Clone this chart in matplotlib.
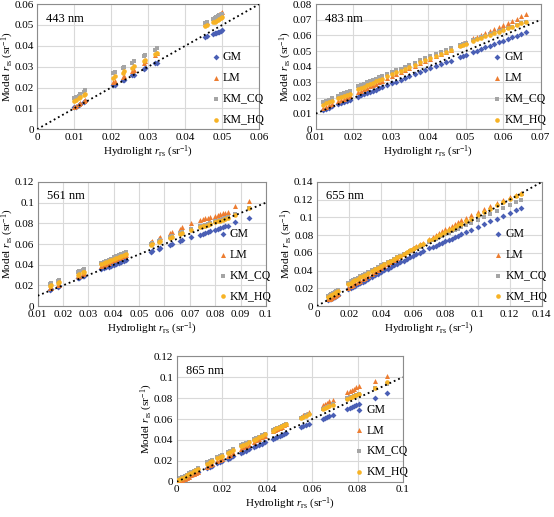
import matplotlib
matplotlib.use('Agg')
import matplotlib.pyplot as plt
from matplotlib.ticker import MultipleLocator, FuncFormatter

plt.rcParams['font.family'] = ['Liberation Serif', 'DejaVu Serif']
plt.rcParams['mathtext.fontset'] = 'custom'
plt.rcParams['mathtext.rm'] = 'Liberation Serif'
plt.rcParams['mathtext.it'] = 'Liberation Serif:italic'

# ---- 443 nm ----
x1 = [0.0100, 0.0104, 0.0113, 0.0116, 0.0127, 0.0130,
      0.0206, 0.0209, 0.0231, 0.0234, 0.0257, 0.0261, 0.0288, 0.0292, 0.0319, 0.0323,
      0.0454, 0.0458, 0.0476, 0.0480, 0.0484, 0.0488, 0.0492, 0.0496, 0.0500]
gm1 = [0.0105, 0.0108, 0.0117, 0.0120, 0.0131, 0.0134,
       0.0210, 0.0213, 0.0234, 0.0237, 0.0259, 0.0262, 0.0290, 0.0293, 0.0317, 0.0320,
       0.0442, 0.0446, 0.0458, 0.0460, 0.0462, 0.0465, 0.0467, 0.0472, 0.0478]
lm1 = [0.0108, 0.0112, 0.0121, 0.0125, 0.0137, 0.0141,
       0.0225, 0.0232, 0.0250, 0.0256, 0.0278, 0.0285, 0.0320, 0.0327, 0.0358, 0.0364,
       0.0505, 0.0512, 0.0532, 0.0538, 0.0543, 0.0548, 0.0553, 0.0558, 0.0563]
cq1 = [0.0148, 0.0155, 0.0160, 0.0168, 0.0178, 0.0186,
       0.0268, 0.0276, 0.0292, 0.0300, 0.0318, 0.0326, 0.0350, 0.0358, 0.0380, 0.0388,
       0.0508, 0.0516, 0.0530, 0.0535, 0.0538, 0.0542, 0.0546, 0.0550, 0.0555]
hq1 = [0.0136, 0.0142, 0.0150, 0.0156, 0.0164, 0.0170,
       0.0246, 0.0254, 0.0270, 0.0278, 0.0296, 0.0304, 0.0325, 0.0332, 0.0360, 0.0366,
       0.0495, 0.0502, 0.0512, 0.0516, 0.0520, 0.0525, 0.0530, 0.0535, 0.0540]

# ---- 483 nm ----
x2 = [0.0120, 0.0128, 0.0136, 0.0144,
      0.0160, 0.0168, 0.0176, 0.0184, 0.0190,
      0.0212, 0.0220, 0.0228, 0.0236, 0.0244, 0.0252, 0.0260, 0.0268, 0.0276,
      0.0290, 0.0302, 0.0314, 0.0326, 0.0338, 0.0350, 0.0364, 0.0378, 0.0392, 0.0406, 0.0420, 0.0434, 0.0448, 0.0460,
      0.0484, 0.0492, 0.0500,
      0.0520, 0.0530, 0.0540, 0.0552, 0.0564, 0.0576, 0.0588, 0.0600, 0.0612, 0.0624, 0.0636, 0.0648, 0.0660]
gm2 = [0.0124, 0.0131, 0.0139, 0.0146,
       0.0161, 0.0168, 0.0176, 0.0183, 0.0189,
       0.0209, 0.0217, 0.0224, 0.0232, 0.0239, 0.0247, 0.0254, 0.0262, 0.0269,
       0.0282, 0.0294, 0.0305, 0.0316, 0.0327, 0.0338, 0.0351, 0.0364, 0.0377, 0.0390, 0.0403, 0.0416, 0.0428, 0.0439,
       0.0461, 0.0468, 0.0475,
       0.0494, 0.0503, 0.0512, 0.0523, 0.0534, 0.0545, 0.0556, 0.0567, 0.0578, 0.0589, 0.0599, 0.0610, 0.0620]
lm2 = [0.0135, 0.0143, 0.0152, 0.0160,
       0.0178, 0.0187, 0.0195, 0.0204, 0.0211,
       0.0238, 0.0247, 0.0256, 0.0265, 0.0274, 0.0283, 0.0292, 0.0301, 0.0310,
       0.0326, 0.0339, 0.0352, 0.0365, 0.0378, 0.0391, 0.0406, 0.0421, 0.0436, 0.0451, 0.0466, 0.0481, 0.0496, 0.0509,
       0.0540, 0.0549, 0.0558,
       0.0581, 0.0592, 0.0603, 0.0616, 0.0629, 0.0643, 0.0656, 0.0669, 0.0682, 0.0695, 0.0708, 0.0721, 0.0735]
cq2 = [0.0175, 0.0183, 0.0190, 0.0198,
       0.0215, 0.0223, 0.0232, 0.0240, 0.0247,
       0.0276, 0.0284, 0.0292, 0.0300, 0.0308, 0.0316, 0.0324, 0.0332, 0.0340,
       0.0352, 0.0364, 0.0376, 0.0388, 0.0400, 0.0412, 0.0426, 0.0440, 0.0453, 0.0466, 0.0480, 0.0493, 0.0506, 0.0518,
       0.0539, 0.0547, 0.0554,
       0.0570, 0.0579, 0.0587, 0.0597, 0.0607, 0.0617, 0.0627, 0.0637, 0.0647, 0.0657, 0.0667, 0.0677, 0.0687]
hq2 = [0.0158, 0.0166, 0.0174, 0.0182,
       0.0198, 0.0206, 0.0214, 0.0222, 0.0228,
       0.0256, 0.0264, 0.0273, 0.0281, 0.0290, 0.0298, 0.0306, 0.0315, 0.0323,
       0.0338, 0.0351, 0.0363, 0.0375, 0.0388, 0.0400, 0.0414, 0.0428, 0.0442, 0.0456, 0.0470, 0.0484, 0.0497, 0.0509,
       0.0531, 0.0539, 0.0547,
       0.0565, 0.0574, 0.0583, 0.0594, 0.0604, 0.0615, 0.0625, 0.0636, 0.0646, 0.0657, 0.0667, 0.0678, 0.0688]

# ---- 561 nm ----
x3 = [0.0150, 0.0153, 0.0180, 0.0183, 0.0260, 0.0263, 0.0280, 0.0283,
      0.0350, 0.0360, 0.0370, 0.0380, 0.0390, 0.0400, 0.0410, 0.0420, 0.0430, 0.0440, 0.0450,
      0.0545, 0.0550, 0.0578, 0.0582, 0.0620, 0.0630, 0.0660, 0.0670, 0.0705,
      0.0740, 0.0750, 0.0760, 0.0770, 0.0780, 0.0800, 0.0810, 0.0820, 0.0830, 0.0840, 0.0850,
      0.0880, 0.0932]
gm3 = [0.0160, 0.0163, 0.0188, 0.0191, 0.0268, 0.0271, 0.0287, 0.0290,
       0.0355, 0.0364, 0.0373, 0.0382, 0.0391, 0.0400, 0.0409, 0.0418, 0.0427, 0.0437, 0.0447,
       0.0526, 0.0531, 0.0555, 0.0560, 0.0590, 0.0600, 0.0625, 0.0635, 0.0665,
       0.0690, 0.0698, 0.0706, 0.0714, 0.0722, 0.0738, 0.0746, 0.0754, 0.0762, 0.0770, 0.0778,
       0.0810, 0.0855]
lm3 = [0.0170, 0.0175, 0.0200, 0.0205, 0.0290, 0.0295, 0.0312, 0.0317,
       0.0388, 0.0399, 0.0410, 0.0421, 0.0432, 0.0443, 0.0454, 0.0465, 0.0476, 0.0487, 0.0498,
       0.0620, 0.0630, 0.0655, 0.0665, 0.0705, 0.0720, 0.0750, 0.0765, 0.0805,
       0.0830, 0.0840, 0.0848, 0.0856, 0.0864, 0.0872, 0.0880, 0.0888, 0.0896, 0.0904, 0.0912,
       0.0968, 0.1018]
cq3 = [0.0215, 0.0222, 0.0245, 0.0252, 0.0330, 0.0337, 0.0352, 0.0360,
       0.0420, 0.0430, 0.0440, 0.0450, 0.0460, 0.0470, 0.0480, 0.0490, 0.0500, 0.0510, 0.0520,
       0.0600, 0.0610, 0.0632, 0.0640, 0.0670, 0.0680, 0.0705, 0.0715, 0.0745,
       0.0770, 0.0778, 0.0786, 0.0794, 0.0802, 0.0818, 0.0826, 0.0834, 0.0842, 0.0850, 0.0858,
       0.0890, 0.0945]
hq3 = [0.0195, 0.0200, 0.0225, 0.0230, 0.0305, 0.0310, 0.0328, 0.0333,
       0.0402, 0.0412, 0.0422, 0.0432, 0.0442, 0.0452, 0.0462, 0.0472, 0.0482, 0.0492, 0.0505,
       0.0590, 0.0600, 0.0622, 0.0630, 0.0660, 0.0670, 0.0695, 0.0705, 0.0735,
       0.0762, 0.0770, 0.0778, 0.0786, 0.0794, 0.0810, 0.0818, 0.0826, 0.0834, 0.0842, 0.0850,
       0.0885, 0.0950]

# ---- 655 nm ----
x4 = [0.0070, 0.0080, 0.0090, 0.0100, 0.0110, 0.0120, 0.0130,
      0.0195, 0.0210, 0.0225, 0.0240, 0.0255, 0.0270, 0.0285, 0.0300, 0.0320, 0.0340, 0.0360, 0.0380,
      0.0400, 0.0420, 0.0440, 0.0460, 0.0480, 0.0500, 0.0520, 0.0540, 0.0560, 0.0580, 0.0600, 0.0620, 0.0640, 0.0660,
      0.0700, 0.0720, 0.0740, 0.0760, 0.0780, 0.0800, 0.0820, 0.0840, 0.0860, 0.0880, 0.0900, 0.0930, 0.0960,
      0.1000, 0.1040, 0.1080, 0.1120, 0.1160, 0.1200, 0.1240, 0.1270]
gm4 = [0.0066, 0.0075, 0.0085, 0.0094, 0.0104, 0.0113, 0.0122,
       0.0188, 0.0202, 0.0216, 0.0231, 0.0245, 0.0259, 0.0274, 0.0288, 0.0307, 0.0326, 0.0345, 0.0365,
       0.0385, 0.0404, 0.0422, 0.0441, 0.0459, 0.0477, 0.0495, 0.0513, 0.0531, 0.0548, 0.0566, 0.0583, 0.0600, 0.0617,
       0.0650, 0.0666, 0.0682, 0.0698, 0.0714, 0.0730, 0.0746, 0.0762, 0.0778, 0.0794, 0.0810, 0.0834, 0.0858,
       0.0895, 0.0925, 0.0955, 0.0985, 0.1015, 0.1050, 0.1085, 0.1110]
lm4 = [0.0075, 0.0085, 0.0096, 0.0106, 0.0117, 0.0127, 0.0138,
       0.0205, 0.0222, 0.0238, 0.0255, 0.0271, 0.0288, 0.0304, 0.0321, 0.0343, 0.0365, 0.0387, 0.0409,
       0.0431, 0.0453, 0.0475, 0.0497, 0.0519, 0.0541, 0.0563, 0.0585, 0.0607, 0.0629, 0.0651, 0.0673, 0.0695, 0.0716,
       0.0760, 0.0781, 0.0802, 0.0823, 0.0845, 0.0866, 0.0886, 0.0906, 0.0926, 0.0946, 0.0966, 0.0995, 0.1023,
       0.1060, 0.1097, 0.1133, 0.1165, 0.1195, 0.1225, 0.1255, 0.1275]
cq4 = [0.0115, 0.0125, 0.0137, 0.0148, 0.0160, 0.0172, 0.0184,
       0.0265, 0.0280, 0.0294, 0.0308, 0.0322, 0.0336, 0.0350, 0.0364, 0.0383, 0.0402, 0.0421, 0.0440,
       0.0458, 0.0477, 0.0495, 0.0513, 0.0531, 0.0549, 0.0566, 0.0584, 0.0601, 0.0618, 0.0635, 0.0652, 0.0669, 0.0686,
       0.0725, 0.0742, 0.0759, 0.0776, 0.0793, 0.0810, 0.0826, 0.0842, 0.0858, 0.0874, 0.0890, 0.0914, 0.0938,
       0.0975, 0.1007, 0.1040, 0.1072, 0.1105, 0.1138, 0.1170, 0.1195]
hq4 = [0.0105, 0.0116, 0.0127, 0.0138, 0.0149, 0.0160, 0.0171,
       0.0248, 0.0263, 0.0278, 0.0293, 0.0308, 0.0323, 0.0338, 0.0353, 0.0373, 0.0393, 0.0413, 0.0433,
       0.0452, 0.0472, 0.0492, 0.0511, 0.0531, 0.0550, 0.0569, 0.0589, 0.0608, 0.0627, 0.0646, 0.0665, 0.0684, 0.0703,
       0.0741, 0.0760, 0.0779, 0.0798, 0.0817, 0.0836, 0.0855, 0.0874, 0.0893, 0.0912, 0.0931, 0.0959, 0.0987,
       0.1025, 0.1062, 0.1099, 0.1136, 0.1173, 0.1210, 0.1245, 0.1270]

# ---- 865 nm ----
x5 = [0.0005, 0.0015, 0.0025, 0.0035, 0.0045, 0.0055, 0.0065, 0.0075, 0.0085, 0.0095,
      0.0135, 0.0145, 0.0155, 0.0180, 0.0190, 0.0200,
      0.0225, 0.0235, 0.0250, 0.0285, 0.0295, 0.0305, 0.0318,
      0.0340, 0.0352, 0.0364, 0.0376, 0.0390,
      0.0425, 0.0435, 0.0445, 0.0455, 0.0465, 0.0475, 0.0485,
      0.0548, 0.0560, 0.0572, 0.0585,
      0.0645, 0.0655, 0.0665, 0.0675, 0.0690,
      0.0755, 0.0765, 0.0775, 0.0785, 0.0795, 0.0805,
      0.0875, 0.0930]
gm5 = [0.0005, 0.0015, 0.0025, 0.0035, 0.0045, 0.0055, 0.0064, 0.0074, 0.0084, 0.0094,
       0.0134, 0.0143, 0.0153, 0.0178, 0.0187, 0.0197,
       0.0221, 0.0231, 0.0245, 0.0279, 0.0289, 0.0298, 0.0310,
       0.0331, 0.0342, 0.0354, 0.0365, 0.0378,
       0.0410, 0.0419, 0.0428, 0.0437, 0.0446, 0.0455, 0.0464,
       0.0520, 0.0530, 0.0540, 0.0551,
       0.0603, 0.0612, 0.0620, 0.0629, 0.0641,
       0.0700, 0.0708, 0.0716, 0.0724, 0.0732, 0.0740,
       0.0805, 0.0850]
lm5 = [0.0003, 0.0012, 0.0021, 0.0031, 0.0041, 0.0051, 0.0062, 0.0072, 0.0083, 0.0094,
       0.0145, 0.0157, 0.0169, 0.0198, 0.0209, 0.0221,
       0.0250, 0.0261, 0.0278, 0.0318, 0.0330, 0.0341, 0.0356,
       0.0382, 0.0396, 0.0410, 0.0424, 0.0440,
       0.0482, 0.0493, 0.0505, 0.0516, 0.0528, 0.0539, 0.0551,
       0.0622, 0.0636, 0.0650, 0.0664,
       0.0733, 0.0745, 0.0756, 0.0768, 0.0785,
       0.0857, 0.0868, 0.0880, 0.0891, 0.0902, 0.0913,
       0.0965, 0.1015]
cq5 = [0.0020, 0.0032, 0.0044, 0.0056, 0.0068, 0.0080, 0.0092, 0.0104, 0.0116, 0.0128,
       0.0185, 0.0196, 0.0207, 0.0235, 0.0246, 0.0257,
       0.0285, 0.0296, 0.0312, 0.0350, 0.0360, 0.0371, 0.0385,
       0.0408, 0.0420, 0.0433, 0.0445, 0.0459,
       0.0495, 0.0505, 0.0515, 0.0525, 0.0535, 0.0545, 0.0555,
       0.0612, 0.0624, 0.0635, 0.0647,
       0.0700, 0.0709, 0.0718, 0.0727, 0.0740,
       0.0797, 0.0806, 0.0814, 0.0823, 0.0831, 0.0840,
       0.0900, 0.0935]
hq5 = [0.0015, 0.0027, 0.0039, 0.0051, 0.0063, 0.0075, 0.0087, 0.0099, 0.0111, 0.0122,
       0.0175, 0.0186, 0.0197, 0.0225, 0.0236, 0.0247,
       0.0275, 0.0286, 0.0302, 0.0340, 0.0351, 0.0362, 0.0376,
       0.0400, 0.0413, 0.0426, 0.0438, 0.0453,
       0.0490, 0.0500, 0.0511, 0.0521, 0.0532, 0.0542, 0.0552,
       0.0608, 0.0620, 0.0632, 0.0644,
       0.0698, 0.0707, 0.0716, 0.0725, 0.0738,
       0.0796, 0.0805, 0.0814, 0.0822, 0.0831, 0.0840,
       0.0895, 0.0950]

labels = ['GM', 'LM', 'KM_CQ', 'KM_HQ']
colors = ['#4A5FB5', '#ED7D31', '#A5A5A5', '#F7B325']
markers = ['D', '^', 's', 'o']
sizes = [9, 13, 10, 11]

W, H = 554, 517
fig = plt.figure(figsize=(W / 100, H / 100), dpi=100)


def panel(rect, title, x, ys, xlim, ylim, xstep, ystep):
    ax = fig.add_axes(rect)
    for y, lab, c, m, s in zip(ys, labels, colors, markers, sizes):
        ax.scatter(x, y, s=s, c=c, marker=m, linewidths=0, label=lab, zorder=3)
    # 1:1 line
    lo = max(xlim[0], ylim[0])
    hi = min(xlim[1], ylim[1])
    ax.plot([lo, hi], [lo, hi], color='black', ls=':', lw=1.3, zorder=4)
    ax.set_xlim(xlim)
    ax.set_ylim(ylim)
    ax.xaxis.set_major_locator(MultipleLocator(xstep))
    ax.yaxis.set_major_locator(MultipleLocator(ystep))
    fmt = FuncFormatter(lambda v, p: '%g' % round(v, 4))
    ax.xaxis.set_major_formatter(fmt)
    ax.yaxis.set_major_formatter(fmt)
    ax.grid(True, color='#d9d9d9', lw=0.8, zorder=0)
    ax.set_axisbelow(True)
    ax.tick_params(length=0, labelsize=8, pad=2.5)
    for sp in ax.spines.values():
        sp.set_color('#8c8c8c')
        sp.set_linewidth(0.8)
    ax.set_xlabel(r'Hydrolight $r_{\rm rs}$ (sr$^{-1}$)', fontsize=8, labelpad=1.5)
    ax.set_ylabel(r'Model $r_{\rm rs}$ (sr$^{-1}$)', fontsize=8)
    # y label sits just left of the tick labels
    ax.yaxis.set_label_coords(-21.5 / (rect[2] * W), 0.5)
    ax.text(0.04, 0.86, title, transform=ax.transAxes, fontsize=9)
    ax.legend(loc='lower right', bbox_to_anchor=(1.04, 0.0), frameon=False,
              fontsize=8.5, labelspacing=0.75, handletextpad=0.1, handlelength=1.0,
              borderaxespad=0.1, borderpad=0.2)
    return ax


panel([0.067, 0.750, 0.401, 0.242], '443 nm', x1, [gm1, lm1, cq1, hq1],
      (0, 0.06), (0, 0.06), 0.01, 0.01)
panel([0.570, 0.750, 0.406, 0.242], '483 nm', x2, [gm2, lm2, cq2, hq2],
      (0.01, 0.07), (0, 0.08), 0.01, 0.01)
panel([0.068, 0.408, 0.412, 0.240], '561 nm', x3, [gm3, lm3, cq3, hq3],
      (0.01, 0.1), (0, 0.12), 0.01, 0.02)
panel([0.572, 0.408, 0.406, 0.240], '655 nm', x4, [gm4, lm4, cq4, hq4],
      (0, 0.14), (0, 0.14), 0.02, 0.02)
panel([0.319, 0.068, 0.408, 0.243], '865 nm', x5, [gm5, lm5, cq5, hq5],
      (0, 0.1), (0, 0.12), 0.02, 0.02)

fig.savefig('out.png', dpi=100)
